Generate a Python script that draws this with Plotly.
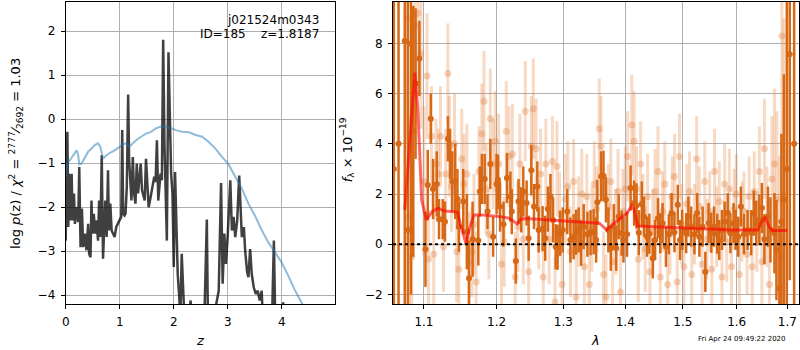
import numpy as np
import plotly.graph_objects as go

# ---------------- left panel: redshift probability ----------------
z_chi = [0.000,0.031,0.049,0.061,0.080,0.110,0.128,0.153,0.171,0.202,
         0.232,0.251,0.275,0.300,0.324,0.355,0.385,0.416,0.434,0.459,
         0.477,0.495,0.520,0.544,0.569,0.599,0.618,0.642,0.667,0.691,
         0.709,0.734,0.758,0.783,0.801,0.826,0.850,0.875,0.905,0.936,
         0.966,0.997,1.028,1.046,1.064,1.089,1.107,1.131,1.156,1.174,
         1.199,1.217,1.242,1.266,1.291,1.315,1.339,1.364,1.388,1.413,
         1.437,1.462,1.486,1.511,1.535,1.560,1.584,1.609,1.639,1.664,
         1.688,1.713,1.731,1.755,1.780,1.804,1.829,1.847,1.872,1.902,
         1.927,1.951,1.976,2.000,2.024,2.049,2.073,2.098,2.122,2.147,
         2.171,2.196,2.251,2.312,2.343,2.557,2.612,2.636,2.771,2.832,
         2.875,2.905,2.936,2.966,2.997,3.046,3.076,3.107,3.138,3.174,
         3.211,3.235,3.260,3.297,3.321,3.358,3.382,3.413,3.443,3.480,
         3.517,3.554,3.590,3.627,3.664,3.810,3.853,3.884,3.994,4.024,
         4.055]
logp_chi = [-2.76,-0.29,-2.45,-1.24,-2.30,-1.24,-2.30,-1.69,-2.38,-2.00,
            -2.34,-1.09,-2.91,-2.03,-2.91,-2.60,-2.98,-2.38,-3.06,-3.14,
            -1.85,-2.60,-2.15,-2.60,-2.30,-2.76,-1.85,-2.68,-0.82,-3.17,
            -2.60,-1.85,-2.68,-1.16,-2.53,-1.92,-2.53,-2.60,-2.68,-2.45,
            -2.38,-2.30,-2.22,-0.25,-2.15,-2.19,-2.15,-1.54,0.56,-0.93,
            -1.69,-1.85,-0.86,-1.69,-1.92,-1.01,-1.69,-1.31,-1.01,-1.62,
            -1.77,-1.85,-0.90,-1.54,-2.00,-1.85,-1.69,-1.54,-1.31,-1.43,
            -0.48,-1.85,-1.54,-1.24,-1.39,1.80,-0.63,-1.54,-2.76,1.52,
            0.28,-1.24,-1.69,-3.36,-1.20,-2.60,-3.52,-3.97,-4.50,-3.06,
            -3.82,-4.50,-5.0,-4.12,-5.0,-5.0,-2.28,-5.0,-4.30,-3.90,
            -1.45,-3.74,-2.60,-3.29,-2.68,-1.39,-2.53,-2.22,-2.68,-2.30,
            -1.28,-2.22,-2.68,-2.45,-2.98,-3.48,-3.59,-2.95,-3.52,-3.82,
            -3.97,-3.90,-4.12,-3.90,-5.0,-5.0,-2.76,-5.0,-5.0,-4.16,
            -5.0]

z_prior = [0,0.031,0.080,0.141,0.202,0.232,0.251,0.294,0.355,0.416,
           0.477,0.538,0.599,0.642,0.691,0.752,0.813,0.905,0.997,1.058,
           1.119,1.180,1.242,1.303,1.394,1.486,1.578,1.670,1.761,1.853,
           1.945,2.037,2.159,2.281,2.404,2.526,2.648,2.771,2.893,3.015,
           3.138,3.260,3.382,3.505,3.627,3.749,3.872,3.994,4.116,4.239,
           4.379,4.48]
logp_prior = [-1.31,-1.01,-0.93,-0.82,-0.71,-0.82,-1.03,-1.01,-0.86,-0.74,
              -0.67,-0.59,-0.55,-0.63,-0.90,-0.82,-0.77,-0.71,-0.63,-0.57,
              -0.55,-0.63,-0.55,-0.48,-0.40,-0.33,-0.29,-0.21,-0.17,-0.17,
              -0.20,-0.25,-0.29,-0.30,-0.36,-0.40,-0.52,-0.67,-0.86,-1.03,
              -1.31,-1.58,-1.92,-2.20,-2.52,-2.80,-3.02,-3.25,-3.55,-3.88,
              -4.20,-4.45]

z_ticks = [0, 1, 2, 3, 4]
logp_ticks = [-4, -3, -2, -1, 0, 1, 2]

# ---------------- right panel: spectrum ----------------
dark_wave = [1.061,1.067,1.075,1.079,1.083,1.086,1.089,1.094,1.102,1.105,
             1.109,1.112,1.117,1.120,1.125,1.128,1.132,1.135,1.138,1.142,
             1.145,1.147,1.153,1.158,1.161,1.166,1.174,1.176,1.179,1.183,
             1.187,1.191,1.195,1.200,1.202,1.205,1.210,1.215,1.220,1.222,
             1.228,1.232,1.236,1.239,1.244,1.247,1.251,1.255,1.260,1.262,
             1.268,1.272,1.276,1.280,1.284,1.288,1.291,1.295,1.299,1.306,
             1.311,1.316,1.320,1.324,1.328,1.332,1.338,1.343,1.348,1.352,
             1.354,1.360,1.364,1.368,1.372,1.376,1.381,1.385,1.389,1.394,
             1.397,1.403,1.409,1.415,1.419,1.423,1.428,1.432,1.437,1.441,
             1.447,1.451,1.456,1.460,1.464,1.470,1.475,1.480,1.485,1.491,
             1.495,1.499,1.506,1.510,1.515,1.521,1.526,1.530,1.536,1.541,
             1.547,1.552,1.557,1.563,1.567,1.572,1.577,1.583,1.588,1.594,
             1.598,1.603,1.608,1.614,1.621,1.628,1.633,1.638,1.644,1.649,
             1.654,1.661,1.666,1.674,1.678,1.684,1.688,1.693,1.699,1.705,
             1.714]
dark_flux = [3.0,4.0,8.1,0.57,8.0,4.5,6.4,7.4,-0.2,2.36,
             5.0,2.2,2.4,1.0,1.0,0.9,4.2,3.6,2.5,2.5,
             1.8,0.7,1.7,0.5,-1.35,0.2,0.15,2.1,2.6,2.6,
             1.3,3.2,0.3,2.4,2.57,1.5,0.8,2.64,1.9,1.3,
             -0.67,1.7,1.37,2.1,1.64,0.24,2.95,1.5,2.3,0.57,
             0.62,0.24,1.4,1.9,0.97,-0.1,-0.12,0.44,0.57,1.3,
             0.17,0.3,0.48,0.57,0.04,0.7,0.4,0.46,0.5,0.17,
             1.67,2.7,2.73,1.77,0.57,-0.16,0.7,-0.16,1.1,0.44,
             0.17,0.4,2.24,1.64,1.53,0.46,1.6,1.1,0.3,0.42,
             -0.56,0.17,1.04,0.44,0.84,-0.1,0.4,1.24,0.48,1.57,
             0.17,0.57,0.44,1.1,0.7,0.4,1.24,0.3,0.7,-1.1,
             0.84,0.46,0.7,0.42,0.17,0.57,0.9,1.24,0.44,0.84,
             0.57,0.3,1.5,0.4,0.57,0.46,1.24,0.84,0.97,1.44,
             0.2,1.1,0.57,0.44,-0.23,-1.76,0.9,1.77,3.0,7.57,
             4.0]
dark_err = [20,20,15,15,10,5,3,1.5,1.5,1.4,
            1.0,1.2,1.3,0.8,0.8,0.8,0.9,1.0,1.2,1.5,
            1.2,1.0,1.3,1.5,1.5,1.5,1.0,1.0,1.0,1.0,
            0.7,1.0,0.8,1.2,1.0,1.0,0.9,1.0,1.0,0.9,
            0.9,0.9,0.9,1.0,0.9,0.9,1.0,0.9,1.0,0.9,
            0.9,0.9,0.9,0.9,0.9,0.9,0.9,0.9,0.9,0.9,
            0.9,0.9,0.9,0.9,0.9,0.9,0.9,0.9,0.9,0.9,
            0.9,1.0,1.0,0.9,0.9,0.9,0.9,0.9,0.9,0.9,
            0.9,0.9,0.9,0.9,0.9,0.9,0.9,0.8,0.8,0.8,
            0.8,0.8,0.8,0.8,0.8,0.8,0.8,0.8,0.8,0.8,
            0.8,0.8,0.8,0.8,0.8,0.8,0.8,0.8,0.8,0.8,
            0.8,0.8,0.8,0.8,0.8,0.8,0.8,0.8,0.8,0.8,
            0.8,0.8,0.8,0.8,0.8,0.9,0.9,0.9,1.0,1.0,
            1.0,1.2,1.3,1.6,2.0,2.5,3.5,5.0,8.0,9.0,
            12.0]

light_wave = [1.078,1.081,1.084,1.088,1.092,1.096,1.100,1.104,1.106,1.110,
              1.113,1.116,1.119,1.122,1.126,1.129,1.132,1.134,1.137,1.141,
              1.144,1.147,1.151,1.154,1.158,1.161,1.165,1.168,1.171,1.175,
              1.179,1.182,1.185,1.189,1.191,1.195,1.198,1.203,1.207,1.211,
              1.214,1.218,1.223,1.227,1.231,1.234,1.239,1.242,1.247,1.251,
              1.254,1.258,1.262,1.265,1.269,1.273,1.278,1.283,1.287,1.290,
              1.294,1.298,1.303,1.307,1.311,1.316,1.320,1.324,1.329,1.333,
              1.337,1.341,1.345,1.349,1.353,1.357,1.360,1.364,1.368,1.372,
              1.376,1.379,1.384,1.388,1.392,1.396,1.400,1.404,1.411,1.415,
              1.419,1.422,1.426,1.430,1.434,1.438,1.442,1.447,1.451,1.456,
              1.460,1.464,1.468,1.473,1.477,1.481,1.485,1.490,1.494,1.498,
              1.502,1.507,1.512,1.516,1.521,1.525,1.530,1.535,1.540,1.544,
              1.549,1.553,1.558,1.562,1.567,1.572,1.577,1.581,1.586,1.590,
              1.595,1.599,1.605,1.610,1.614,1.620,1.624,1.630,1.634,1.639,
              1.644,1.649,1.654,1.659,1.664,1.669,1.674,1.679,1.684,1.689,
              1.693]
light_flux = [9.0,1.1,-0.5,8.7,9.2,7.6,2.5,6.7,-0.6,4.3,
              -0.4,3.2,2.8,4.3,-0.1,2.8,6.8,3.9,2.3,4.0,
              -0.3,-1.0,3.4,2.4,2.8,-0.7,-0.3,0.8,-1.5,2.9,
              4.4,5.7,2.2,0.4,5.0,3.2,4.1,3.2,-0.8,0.1,
              4.5,3.5,3.6,-1.3,0.7,3.2,0.2,5.3,-1.1,3.9,
              5.4,3.8,0.8,2.8,-1.3,3.2,0.2,3.3,-2.3,3.1,
              1.2,-1.6,1.8,2.3,-0.3,2.5,-2.1,0.9,2.0,-0.9,
              1.9,-1.6,0.6,2.4,1.4,4.6,3.9,-1.2,-2.1,1.5,
              2.5,-0.7,0.5,2.1,-1.9,1.3,2.2,3.5,4.75,4.1,
              2.2,-0.6,3.2,1.1,-0.2,1.9,-1.1,0.5,2.1,2.9,
              -1.3,1.3,2.4,-1.6,0.4,1.9,2.7,-1.5,3.5,0.8,
              -0.9,1.6,2.1,-1.2,0.8,3.4,1.5,-0.8,2.5,0.2,
              1.3,-1.0,2.9,0.7,1.7,-1.3,2.4,0.1,2.2,-0.9,
              1.4,2.0,-1.2,0.9,1.3,-0.4,1.9,-0.9,2.1,0.5,
              2.9,-0.7,3.8,1.1,-1.6,2.6,3.2,1.8,-0.5,8.3,
              2.0]
light_err = [5,4,4,4,3,3,3,2.5,2,2,
             2,1.8,1.8,2,1.8,1.8,2,2,1.8,2,
             2,2,2,2,2,2,1.8,2,2,1.8,
             2,2,1.8,1.8,2,1.8,2,2,1.8,1.8,
             2,2,2,1.8,1.8,2,1.8,2,1.8,2,
             2,2,1.8,1.8,1.8,1.8,1.8,1.8,1.8,1.8,
             1.7,1.7,1.8,1.8,1.8,1.7,1.7,1.8,1.8,1.7,
             1.7,1.7,1.7,1.7,1.7,2,2,1.7,1.7,1.7,
             1.7,1.7,1.7,1.7,1.7,1.7,1.7,1.8,2,2,
             1.7,1.7,1.7,1.7,1.7,1.7,1.7,1.7,1.7,1.8,
             1.6,1.6,1.7,1.6,1.6,1.6,1.7,1.6,1.7,1.6,
             1.6,1.6,1.6,1.6,1.6,1.7,1.6,1.6,1.6,1.6,
             1.6,1.6,1.7,1.6,1.6,1.6,1.6,1.6,1.6,1.6,
             1.6,1.6,1.6,1.6,1.6,1.6,1.6,1.6,1.6,1.6,
             1.8,1.7,2,2,2,2.5,3,3.5,4,5,
             7]

model_wave = [1.075,1.082,1.088,1.092,1.097,1.103,1.111,1.119,1.125,1.132,
              1.145,1.150,1.157,1.161,1.168,1.179,1.203,1.218,1.225,1.230,
              1.235,1.243,1.278,1.303,1.330,1.357,1.363,1.369,1.378,1.395,
              1.403,1.411,1.415,1.421,1.441,1.470,1.530,1.591,1.641,1.647,
              1.655,1.663,1.670,1.700]
model_flux = [1.37,4.4,6.84,5.37,1.77,0.97,1.31,1.44,1.35,1.31,
              1.28,0.71,0.0,0.57,1.17,1.17,1.11,1.04,0.91,0.81,
              1.0,1.03,0.97,0.93,0.88,0.84,0.71,0.57,0.77,1.1,
              1.24,1.53,1.37,0.73,0.71,0.67,0.63,0.57,0.57,0.84,
              1.08,0.71,0.55,0.55]

wave_ticks = [1.1, 1.2, 1.3, 1.4, 1.5, 1.6, 1.7]
flux_ticks = [-2, 0, 2, 4, 6, 8]

W, H = 800, 350
FONT = "DejaVu Sans"
ORANGE = "rgb(214,104,22)"

def minus(v):
    s = f"{v:g}"
    return s.replace("-", "\u2212")

fig = go.Figure()

# left panel
fig.add_trace(go.Scatter(x=z_chi, y=logp_chi, mode="lines",
                         line=dict(color="rgba(0,0,0,0.75)", width=2.5),
                         xaxis="x", yaxis="y", showlegend=False))
fig.add_trace(go.Scatter(x=z_prior, y=logp_prior, mode="lines",
                         line=dict(color="rgba(31,119,180,0.5)", width=2),
                         xaxis="x", yaxis="y", showlegend=False))

# right panel
fig.add_trace(go.Scatter(x=light_wave, y=light_flux, mode="markers",
                         marker=dict(color="rgba(225,120,50,0.32)", size=7),
                         error_y=dict(type="data", array=light_err, visible=True,
                                      thickness=3, width=0,
                                      color="rgba(230,130,60,0.3)"),
                         xaxis="x2", yaxis="y2", showlegend=False))
fig.add_trace(go.Scatter(x=dark_wave, y=dark_flux, mode="markers",
                         marker=dict(color=ORANGE, size=6),
                         error_y=dict(type="data", array=dark_err, visible=True,
                                      thickness=2.5, width=0, color=ORANGE),
                         xaxis="x2", yaxis="y2", showlegend=False))
fig.add_trace(go.Scatter(x=model_wave, y=model_flux, mode="lines",
                         line=dict(color="rgba(255,0,0,0.6)", width=3),
                         xaxis="x2", yaxis="y2", showlegend=False))

axis_common = dict(showline=True, linecolor="black", linewidth=1, mirror=True,
                   ticks="outside", ticklen=4, tickcolor="black", tickwidth=1,
                   ticklabelstandoff=3,
                   showgrid=True, gridcolor="#b0b0b0", gridwidth=1, zeroline=False,
                   tickfont=dict(family=FONT, size=12, color="black"))

fig.update_layout(
    width=W, height=H,
    margin=dict(l=0, r=0, t=2, b=46),
    paper_bgcolor="white", plot_bgcolor="white",
    font=dict(family=FONT, size=12, color="black"),
    xaxis=dict(domain=[62 / W, 333 / W], range=[0, 4.99], anchor="y",
               tickvals=z_ticks, ticktext=[minus(v) for v in z_ticks], **axis_common),
    yaxis=dict(domain=[0, 1], range=[-4.2, 2.66], anchor="x",
               tickvals=logp_ticks, ticktext=[minus(v) for v in logp_ticks], **axis_common),
    xaxis2=dict(domain=[391 / W, 799 / W], type="log",
                range=[np.log10(1.06), np.log10(1.724)], anchor="y2",
                tickvals=wave_ticks, ticktext=[f"{v:.1f}" for v in wave_ticks], **axis_common),
    yaxis2=dict(domain=[0, 1], range=[-2.38, 9.65], anchor="x2",
                tickvals=flux_ticks, ticktext=[minus(v) for v in flux_ticks], **axis_common),
)

# dotted zero line
fig.add_shape(type="line", xref="x2 domain", x0=0, x1=1, yref="y2", y0=0, y1=0,
              line=dict(color="black", width=2, dash="dot"), layer="above")

def py(p):
    return (304 - p) / 302.0

ann = [
    dict(text="j021524m0343", x=319 / W, y=py(20), xanchor="right", yanchor="middle", size=12),
    dict(text="ID=185\u00a0\u00a0\u00a0\u00a0z=1.8187", x=319 / W, y=py(34), xanchor="right", yanchor="middle", size=12),
    dict(text="<i>z</i>", x=197 / W, y=py(340), xanchor="center", yanchor="middle", size=13),
    dict(text="<i>λ</i>", x=594 / W, y=py(340), xanchor="center", yanchor="middle", size=13),
    dict(text="Fri Apr 24 09:49:22 2020", x=788 / W, y=py(339), xanchor="right", yanchor="middle", size=7),
]
for a in ann:
    fig.add_annotation(text=a["text"], xref="paper", yref="paper", x=a["x"], y=a["y"],
                       xanchor=a["xanchor"], yanchor=a["yanchor"], showarrow=False,
                       font=dict(family=FONT, size=a["size"], color="black"))

fig.add_annotation(text="log <i>p</i>(z) / <i>χ</i><sup>2</sup> = <sup>2777</sup>⁄<sub>2692</sub> = 1.03",
                   xref="paper", yref="paper", x=12 / W, y=py(153), textangle=-90,
                   xanchor="center", yanchor="middle", showarrow=False,
                   font=dict(family=FONT, size=13, color="black"))
fig.add_annotation(text="<i>f</i><sub>λ</sub> × 10<sup>−19</sup>",
                   xref="paper", yref="paper", x=345 / W, y=py(150), textangle=-90,
                   xanchor="center", yanchor="middle", showarrow=False,
                   font=dict(family=FONT, size=13, color="black"))

fig.write_html("out.html")
